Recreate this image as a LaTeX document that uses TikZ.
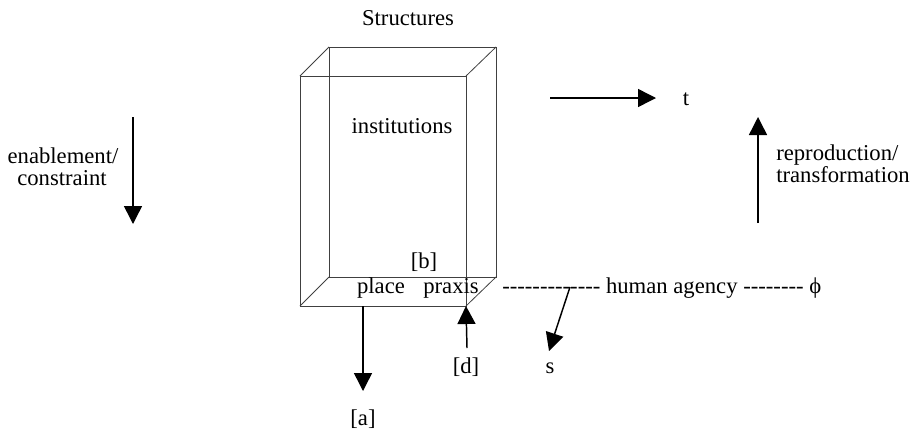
\documentclass[tikz,border=0pt]{standalone}
\usepackage{fontspec}
\setmainfont{Liberation Serif}
\usetikzlibrary{arrows.meta}
\newcommand\hy{\mbox{-}}
\newcommand\hyrun[1]{\foreach \i in {1,...,#1}{\hy}}
\begin{document}
\begin{tikzpicture}[x=0.75pt,y=-0.75pt,
 lbl/.style={font=\fontsize{17}{15}\selectfont, inner sep=0pt, anchor=base},
 arr/.style={line width=1.1pt, -{Triangle[length=13.5pt,width=13.5pt]}},
 boxedge/.style={draw=black!75, line width=0.6pt}]
\useasboundingbox (0,0) rectangle (916,433);
% box
\coordinate (f1) at (300,76);
\coordinate (f2) at (466,76);
\coordinate (f3) at (466,306);
\coordinate (f4) at (300,306);
\coordinate (b1) at (329,47);
\coordinate (b2) at (496,47);
\coordinate (b3) at (496,277);
\coordinate (b4) at (329,277);
\draw[boxedge] (f1) -- (f2) -- (f3) -- (f4) -- cycle;
\draw[boxedge] (b1) -- (b2) -- (b3) -- (b4) -- cycle;
\draw[boxedge] (f1) -- (b1) (f2) -- (b2) (f3) -- (b3) (f4) -- (b4);
% labels
\node[lbl] (struct) at (408,25) {Structures};
\node[lbl] (inst) at (402,133) {institutions};
\node[lbl] (b) at (424,268) {[b]};
\node[lbl] (place) at (381,293) {place};
\node[lbl] (praxis) at (451,293) {praxis};
\node[lbl,anchor=base west] (agency) at (502,293) {\hyrun{13} human agency \hyrun{8} ϕ};
\node[lbl] (a) at (363,425) {[a]};
\node[lbl] (d) at (466,373) {[d]};
\node[lbl] (s) at (550,373) {s};
\node[lbl] (en1) at (63,163) {enablement/};
\node[lbl] (en2) at (62,185) {constraint};
\node[lbl] (t) at (686,105) {t};
\node[lbl,anchor=base west] (re1) at (776,160) {reproduction/};
\node[lbl,anchor=base west] (re2) at (776,182) {transformation};
% arrows
\coordinate (pa0) at (363,306);
\coordinate (pa1) at (363,391);
\draw[arr] (pa0) -- (pa1);
\coordinate (d0) at (467,348);
\draw[arr] (d0) -- (f3);
\coordinate (s0) at (570,287);
\coordinate (s1) at (549,351);
\draw[arr] (s0) -- (s1);
\coordinate (e0) at (133,117);
\coordinate (e1) at (133,224);
\draw[arr] (e0) -- (e1);
\coordinate (t0) at (550,98);
\coordinate (t1) at (656,98);
\draw[arr] (t0) -- (t1);
\coordinate (r0) at (758,223);
\coordinate (r1) at (758,117);
\draw[arr] (r0) -- (r1);
\end{tikzpicture}
\end{document}
